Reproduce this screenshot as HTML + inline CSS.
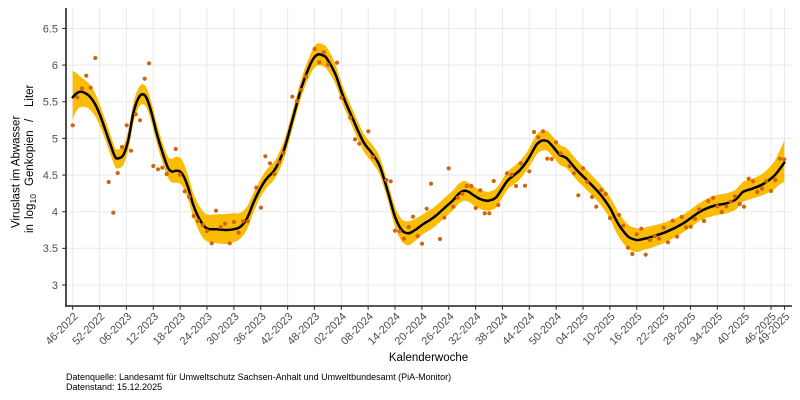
<!DOCTYPE html>
<html>
<head>
<meta charset="utf-8">
<style>
html,body{margin:0;padding:0;background:#fff;}
svg{display:block;}
text{font-family:"Liberation Sans",Arial,sans-serif;}
</style>
</head>
<body>
<svg id="s" width="800" height="400" viewBox="0 0 800 400" xmlns="http://www.w3.org/2000/svg">
<rect x="0" y="0" width="800" height="400" fill="#fff"/>
<g id="grid"></g>
<g id="band"></g>
<g id="line"></g>
<g id="pts"></g>
<g id="axes"></g>

<!-- Y tick labels -->
<g font-size="11" fill="#4d4d4d" text-anchor="end">
<text x="58" y="288.9">3</text>
<text x="58" y="252.2">3.5</text>
<text x="58" y="215.6">4</text>
<text x="58" y="178.9">4.5</text>
<text x="58" y="142.3">5</text>
<text x="58" y="105.6">5.5</text>
<text x="58" y="69">6</text>
<text x="58" y="32.3">6.5</text>
</g>

<!-- X tick labels -->
<g font-size="11" fill="#4d4d4d" text-anchor="end">
<text transform="translate(78.4,317) rotate(-45)">46-2022</text>
<text transform="translate(105.26,317) rotate(-45)">52-2022</text>
<text transform="translate(132.12,317) rotate(-45)">06-2023</text>
<text transform="translate(158.98,317) rotate(-45)">12-2023</text>
<text transform="translate(185.84,317) rotate(-45)">18-2023</text>
<text transform="translate(212.7,317) rotate(-45)">24-2023</text>
<text transform="translate(239.56,317) rotate(-45)">30-2023</text>
<text transform="translate(266.42,317) rotate(-45)">36-2023</text>
<text transform="translate(293.28,317) rotate(-45)">42-2023</text>
<text transform="translate(320.14,317) rotate(-45)">48-2023</text>
<text transform="translate(347,317) rotate(-45)">02-2024</text>
<text transform="translate(373.86,317) rotate(-45)">08-2024</text>
<text transform="translate(400.72,317) rotate(-45)">14-2024</text>
<text transform="translate(427.58,317) rotate(-45)">20-2024</text>
<text transform="translate(454.44,317) rotate(-45)">26-2024</text>
<text transform="translate(481.3,317) rotate(-45)">32-2024</text>
<text transform="translate(508.16,317) rotate(-45)">38-2024</text>
<text transform="translate(535.02,317) rotate(-45)">44-2024</text>
<text transform="translate(561.88,317) rotate(-45)">50-2024</text>
<text transform="translate(588.74,317) rotate(-45)">04-2025</text>
<text transform="translate(615.6,317) rotate(-45)">10-2025</text>
<text transform="translate(642.46,317) rotate(-45)">16-2025</text>
<text transform="translate(669.32,317) rotate(-45)">22-2025</text>
<text transform="translate(696.18,317) rotate(-45)">28-2025</text>
<text transform="translate(723.04,317) rotate(-45)">34-2025</text>
<text transform="translate(749.9,317) rotate(-45)">40-2025</text>
<text transform="translate(776.76,317) rotate(-45)">46-2025</text>
<text transform="translate(790.19,317) rotate(-45)">49-2025</text>
</g>

<!-- Axis titles -->
<text x="428.5" y="361" font-size="11.5" fill="#000" text-anchor="middle">Kalenderwoche</text>
<text transform="translate(19.5,228) rotate(-90)" font-size="11.5" fill="#000">Viruslast im Abwasser</text>
<g transform="translate(33,233) rotate(-90)" font-size="11.5" fill="#000">
<text x="0" y="0">in</text>
<text x="14" y="0">log</text>
<text x="29.5" y="3" font-size="8.5">10</text>
<text x="47" y="0">Genkopien</text>
<text x="111" y="0">/</text>
<text x="126" y="0">Liter</text>
</g>

<!-- Caption -->
<text x="66" y="380" font-size="9" fill="#000">Datenquelle: Landesamt für Umweltschutz Sachsen-Anhalt und Umweltbundesamt (PiA-Monitor)</text>
<text x="66" y="390" font-size="9" fill="#000">Datenstand: 15.12.2025</text>
</svg>

<script>
(function(){
var NS="http://www.w3.org/2000/svg";
function el(parent,tag,attrs){var e=document.createElementNS(NS,tag);for(var k in attrs)e.setAttribute(k,attrs[k]);document.getElementById(parent).appendChild(e);return e;}
var X0=66,X1=792,Y0=8,Y1=306;
// grid
var ticks=[];for(var i=0;i<27;i++)ticks.push(72.7+i*26.86);ticks.push(784.49);
var ys=[];for(var v=3;v<=6.51;v+=0.5)ys.push(285-(v-3)*73.3);
ys.forEach(function(y){el("grid","line",{x1:X0,x2:X1,y1:y,y2:y,stroke:"#ebebeb","stroke-width":"1.1"});});
ticks.forEach(function(x){el("grid","line",{x1:x,x2:x,y1:Y0,y2:Y1,stroke:"#ebebeb","stroke-width":"1.1"});});
// axes
el("axes","line",{x1:X0,x2:X0,y1:Y0,y2:Y1+0.8,stroke:"#222","stroke-width":"1.6"});
el("axes","line",{x1:X0-0.8,x2:X1,y1:Y1,y2:Y1,stroke:"#222","stroke-width":"1.6"});
ys.forEach(function(y){el("axes","line",{x1:X0-3.8,x2:X0,y1:y,y2:y,stroke:"#333","stroke-width":"1.1"});});
ticks.forEach(function(x){el("axes","line",{x1:x,x2:x,y1:Y1,y2:Y1+3.8,stroke:"#333","stroke-width":"1.1"});});

var K=[[72.7,97.3,26.6,22.7],[76,93.8,21,18],[80,91.7,15.5,15.6],[85,93,13,14],[90,96.7,12,13],[95,104,11,12],[100,115,10,11],[105,129,10,10],[110,143.3,10,10],[115,156.7,9,10],[118.3,158.3,9,10],[123.3,155,9,10],[128.3,140,10,10],[133.3,113.3,10,10],[138.3,98.3,10,10],[142.7,94.3,10,10],[146.7,98.3,10,10],[151.7,113.3,10,10],[156.7,133.3,10,10],[163.3,155,10,10],[168.3,168.3,11,10],[172,171.5,13,11],[176,170.8,14,12],[180,171.5,14,12],[184,177,13,12],[188.3,188,12,12],[193.3,205,12,12],[200,220,13,13],[206.7,228.3,14,13],[216.7,229.3,15,14],[226.7,230,16,14],[233.3,229.3,16,13],[240,227,14,12],[246.7,219,12,11],[253.3,203,10,10],[258,193,9,9],[263.3,183.3,9,9],[268,177,9,9],[273.3,171.7,9,9],[278.3,163.3,9,9],[285,146.7,9,9],[293.3,116.7,9,9],[301.7,86.7,9,9],[310,65,10,10],[315,56.5,11,11],[319,54.3,11,11],[323,55.5,11,11],[326.7,58.3,11,11],[335,73.3,10,10],[343.3,96.7,9,9],[353.3,120,9,9],[363.3,141.7,9,9],[373.3,155,9,9],[380,166.7,9,9],[388.3,193.3,9,9],[395,216.7,10,10],[401.7,230,11,11],[408.3,233.3,12,12],[415,230,11,11],[423.3,224,10,10],[430,220,10,10],[436.7,215,10,10],[445,207.5,10,10],[453.3,200,10,10],[458,194.5,10,10],[463.3,191,10,10],[468,191.5,9,10],[473.3,195,9,10],[480,199,9,10],[486.7,200.7,9,10],[491,200,9,10],[496.7,196.7,9,10],[506.7,181.7,9,9],[513,176,9,9],[520,170,9,9],[527,161,9,9],[533.3,150,10,10],[537,144,10,10],[541.7,140.7,10,10],[545,140.5,10,10],[548.3,141.7,10,10],[554,148,10,10],[560,155,10,10],[566.7,158.3,10,10],[576.7,170,10,10],[586.7,180,10,10],[600,194,10,10],[610,208,11,11],[615,218,12,12],[620,226.7,12,12],[628.3,236.7,12,12],[636.7,240,12,12],[643,239,11,11],[650,237.3,11,11],[666.7,231.7,10,10],[683.3,223.3,9,9],[700,211.7,9,9],[713.3,206,10,10],[726.7,203.3,10,10],[735,200,10,10],[740,195,10,10],[743.3,191.7,10,10],[753.3,188.3,10,10],[763.3,184,11,11],[773.3,176.7,14,13],[779,170,18,15],[784.3,162.7,22,19]];

function cr(p,start){
  var d=start?("M"+p[0][0].toFixed(2)+","+p[0][1].toFixed(2)):("L"+p[0][0].toFixed(2)+","+p[0][1].toFixed(2));
  for(var i=0;i<p.length-1;i++){
    var p0=p[i-1]||p[i],p1=p[i],p2=p[i+1],p3=p[i+2]||p2;
    var c1x=p1[0]+(p2[0]-p0[0])/6,c1y=p1[1]+(p2[1]-p0[1])/6;
    var c2x=p2[0]-(p3[0]-p1[0])/6,c2y=p2[1]-(p3[1]-p1[1])/6;
    d+="C"+c1x.toFixed(2)+","+c1y.toFixed(2)+" "+c2x.toFixed(2)+","+c2y.toFixed(2)+" "+p2[0].toFixed(2)+","+p2[1].toFixed(2);
  }
  return d;
}
var up=K.map(function(k){return [k[0],k[1]-k[2]];});
var lo=K.map(function(k){return [k[0],k[1]+k[3]];}).reverse();
var mid=K.map(function(k){return [k[0],k[1]];});
el("band","path",{d:cr(up,true)+cr(lo,false)+"Z",fill:"#fbbc05",stroke:"none"});
el("line","path",{d:cr(mid,true),fill:"none",stroke:"#000","stroke-width":"2.5","stroke-linejoin":"round","stroke-linecap":"round"});

var P=[[72.7,125.3],[77.3,97.3],[82,88.3],[86.3,75.7],[90.7,87.7],[95.3,58],[108.7,182],[113.3,212.7],[117.7,173],[122,147],[126.7,125.3],[131,150.7],[135.7,114.3],[140,120.3],[144.7,78.7],[149,63.3],[153.3,166],[158,169.3],[162.3,167.7],[166.7,174],[175.7,149],[180,174.7],[184.7,191.3],[189,196.7],[193.7,216],[198,221],[202.7,225],[207,231],[211.7,243.3],[216,210.7],[220.7,227],[225,223.7],[229.7,243.3],[234,222],[238.7,232.7],[243,221.3],[247.7,221.3],
[256.3,187.7],[261,207.7],[265.3,156.3],[270,163.3],[274.3,174],[279,162.3],[283.3,153],[292.3,96.7],[297,101],[301.3,90],[306,76.7],[314.7,49],[319.3,62.3],[323.7,52.3],[328,64.7],[337,62.7],[341.3,97.7],[350.3,117.7],[355,139.3],[359.3,143.7],[368.3,131.3],[373,157],[386.3,180],[390.7,181.3],[395,230.7],[399.7,231.3],[404,238.7],[408.7,227],[413,216.7],[417.7,236],[422,243.7],[426.7,208.7],
[431,183.7],[440,239],[444.3,217.7],[448.7,168.3],[453.3,206.7],[457.7,197.7],[462.3,193.7],[466.7,186],[471.3,186],[475.7,208],[480.3,190.3],[484.7,213.3],[489.3,213.3],[493.7,181],[498.3,205],[507,173.3],[511.7,174.7],[516,186],[520.7,163.3],[525,185.7],[529.3,171.3],[534,132],[538.3,137.3],[543,131.3],[547.3,158.7],[551.7,159],[556,142.3],[560.7,153.3],[569.7,166],[574,173.3],[578.3,195.3],[583,168.3],[587.3,181.7],[592,197],[596.3,206.7],
[601.3,190],[605.7,194],[610,218],[619,215],[623.3,225.7],[628,247.7],[632.3,254],[636.7,234.3],[641.3,228.7],[645.7,254.7],[650,240],[654.7,236],[659,238.7],[663.7,227.7],[668,242.3],[672.7,220.7],[677,236.7],[681.7,217],[686,227.3],[690.7,226.7],[695,218.7],[699.3,209.3],[704,221],[708.3,201],[713,198],[717.3,206.3],[721.7,212],[726.3,206.3],[730.7,201.7],[735,196.3],[739.7,204],[744,206.7],[748.7,178.7],[753,181.3],[757.3,192],[762,188.7],[766.3,181.3],[771,191],[775.3,180],[780,158.7],[784.3,159.3]];
P.forEach(function(p){el("pts","circle",{cx:p[0],cy:p[1],r:"2.1",fill:"#d0640f"});});
})();
</script>
</body>
</html>
